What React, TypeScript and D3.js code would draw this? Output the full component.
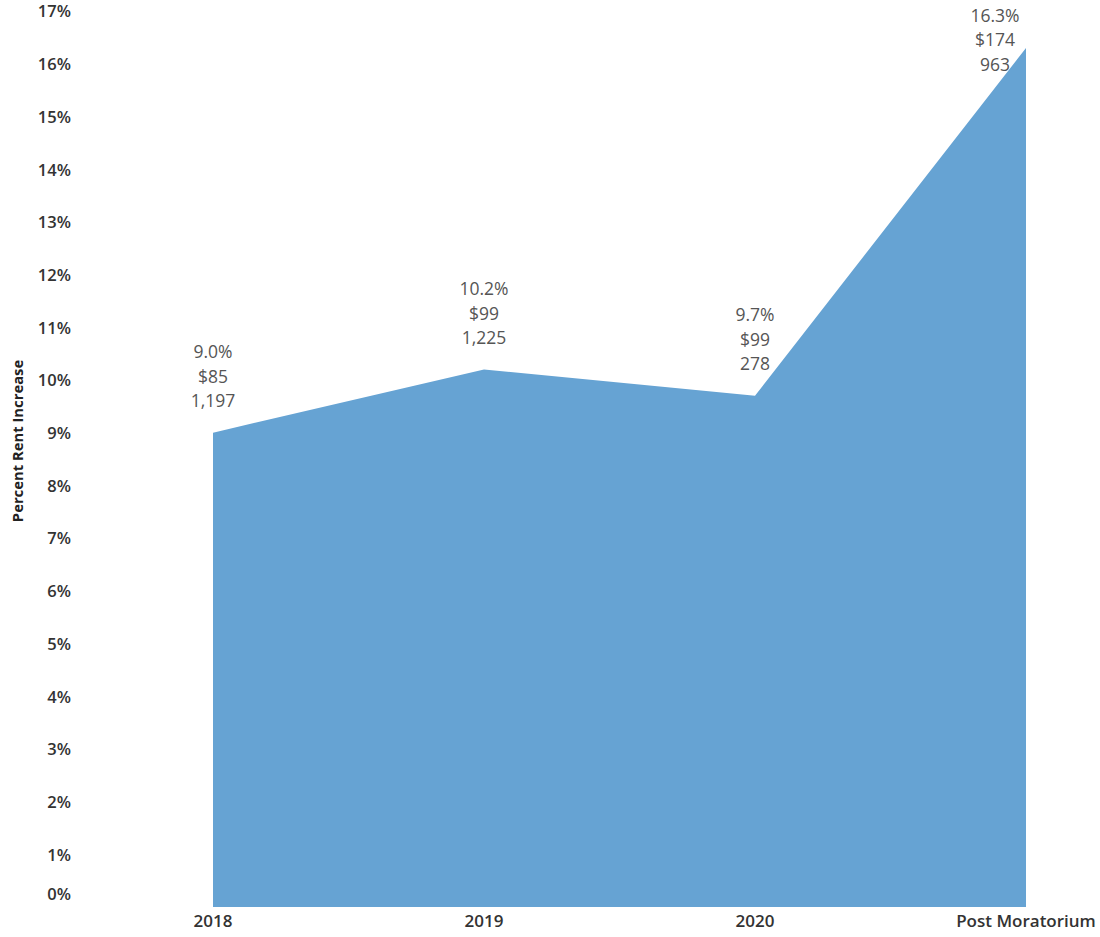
import React from "react";
import * as d3 from "d3";

const categories = ["2018", "2019", "2020", "Post Moratorium"];
const percentValues = [9.0, 10.2, 9.7, 16.3];
const dollarValues = [85, 99, 99, 174];
const countValues = [1197, 1225, 278, 963];
const yTicks = [0, 1, 2, 3, 4, 5, 6, 7, 8, 9, 10, 11, 12, 13, 14, 15, 16, 17];

const W = 1100;
const H = 937;

export default function App() {
  const x = d3.scalePoint<string>().domain(categories).range([213, 1026]);
  const y = d3.scaleLinear().domain([0, 17]).range([907, 11]);
  const data = categories.map((c, i) => ({
    c,
    p: percentValues[i],
    d: dollarValues[i],
    n: countValues[i],
  }));
  const area = d3
    .area<typeof data[number]>()
    .x((d) => x(d.c)!)
    .y0(y(0))
    .y1((d) => y(d.p));
  const fmtPct = (v: number) => d3.format(".1f")(v) + "%";
  const fmtNum = d3.format(",");
  const font = "'Open Sans', 'Noto Sans', sans-serif";
  return (
    <svg
      width={W}
      height={H}
      style={{ position: "absolute", left: 0, top: 0, background: "#fff" }}
      fontFamily={font}
    >
      <path d={area(data) || ""} fill="#66a3d3" />
      {yTicks.map((t) => (
        <text
          key={t}
          x={71}
          y={t === 0 ? y(t) - 11 : y(t) + 2}
          textAnchor="end"
          dominantBaseline="middle"
          fontSize={16.5}
          fontWeight={600}
          fill="#333"
        >
          {t}%
        </text>
      ))}
      <text
        transform={`translate(23,441) rotate(-90)`}
        textAnchor="middle"
        fontSize={14.8}
        fontWeight={700}
        fill="#222"
      >
        Percent Rent Increase
      </text>
      {categories.map((c) => (
        <text
          key={c}
          x={x(c)!}
          y={922}
          textAnchor="middle"
          dominantBaseline="middle"
          fontSize={17}
          fontWeight={600}
          fill="#333"
        >
          {c}
        </text>
      ))}
      {data.map((d, i) => {
        const cx = i === data.length - 1 ? x(d.c)! - 31 : x(d.c)!;
        const top = Math.max(17, y(d.p) - 79);
        const lines = [fmtPct(d.p), "$" + d.d, fmtNum(d.n)];
        return (
          <g key={d.c}>
            {lines.map((l, j) => (
              <text
                key={j}
                x={cx}
                y={top + j * 24.5}
                textAnchor="middle"
                dominantBaseline="middle"
                fontSize={17.5}
                fill="#555"
              >
                {l}
              </text>
            ))}
          </g>
        );
      })}
    </svg>
  );
}
